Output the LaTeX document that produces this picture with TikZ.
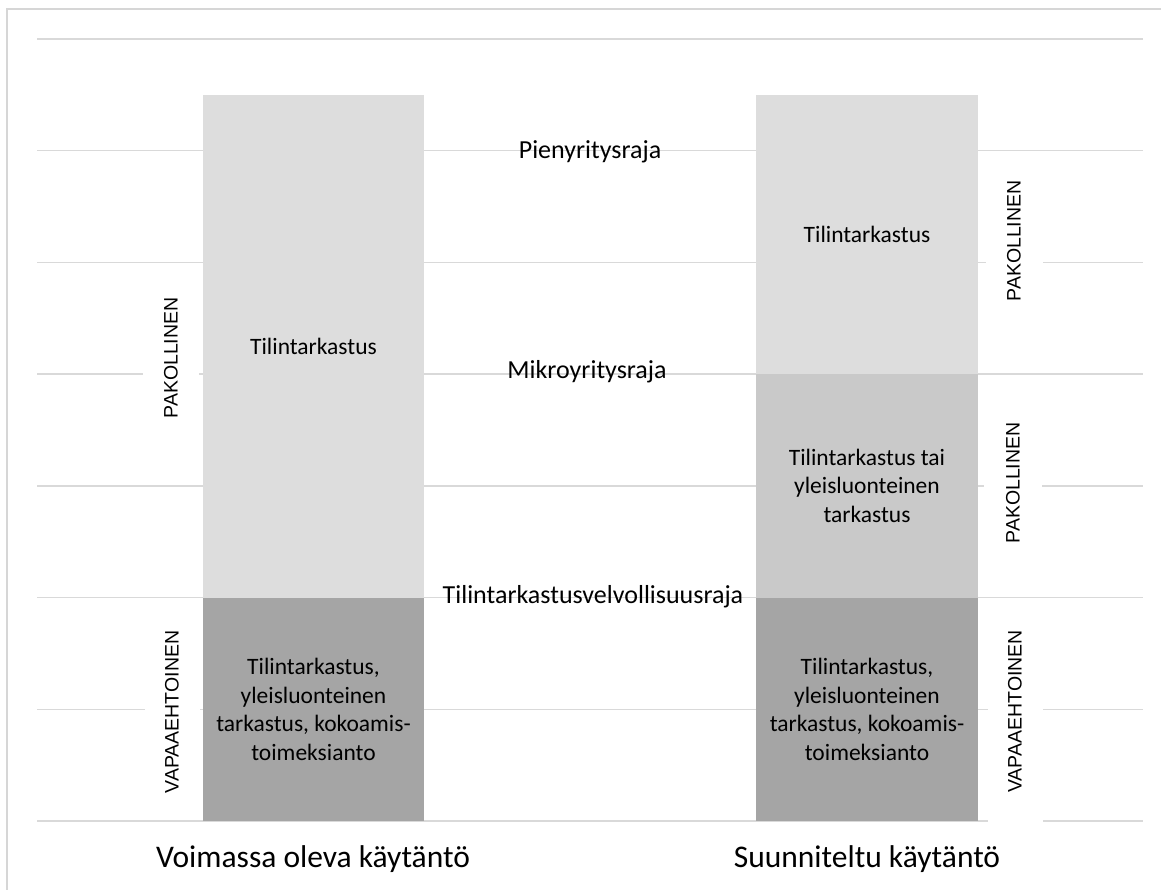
\documentclass[tikz,border=0pt]{standalone}
\usepackage{fontspec}
\setmainfont{Carlito}
\newfontfamily\arialfont{Liberation Sans}
\definecolor{gridgray}{RGB}{217,217,217}
\definecolor{framegray}{RGB}{214,214,214}
\definecolor{lightbar}{RGB}{221,221,221}
\definecolor{midbar}{RGB}{201,201,201}
\definecolor{darkbar}{RGB}{165,165,165}
\begin{document}
\begin{tikzpicture}[x=1pt,y=-1pt,
  gridline/.style={draw=gridgray,line width=1.6pt},
  frameline/.style={draw=framegray,line width=1.8pt},
  barbox/.style={draw=none,inner sep=0pt,align=center,
    font=\fontsize{23.5}{28.6}\selectfont},
  limitlabel/.style={anchor=base,inner sep=0pt,font=\fontsize{26}{31}\selectfont},
  sidelabel/.style={rotate=90,fill=white,inner xsep=3pt,inner ysep=0pt,
    font=\arialfont\fontsize{19.5}{23}\selectfont},
  catlabel/.style={anchor=base,inner sep=0pt,font=\fontsize{31.5}{38}\selectfont}]
\useasboundingbox (0,0) rectangle (1161,890);

% outer frame (left and top edges)
\draw[frameline] (7,890) -- (7,9) -- (1161,9);

% horizontal grid
\foreach \gy in {39,150.7,262.4,374.1,485.9,597.6,709.3,821}
  \draw[gridline] (37,\gy) -- (1143,\gy);

% current practice column
\node[barbox,fill=lightbar,minimum width=221pt,minimum height=502.6pt]
  (curAudit) at (313.5,346.3) {Tilintarkastus};
\node[barbox,fill=darkbar,minimum width=221pt,minimum height=223.4pt]
  (curVol) at (313.5,709.3)
  {Tilintarkastus,\\yleisluonteinen\\tarkastus, kokoamis-\\toimeksianto};

% planned practice column
\node[barbox,fill=lightbar,minimum width=222pt,minimum height=279.1pt]
  (newAudit) at (867,234.55) {Tilintarkastus};
\node[barbox,fill=midbar,minimum width=222pt,minimum height=223.5pt]
  (newReview) at (867,485.85)
  {Tilintarkastus tai\\yleisluonteinen\\tarkastus};
\node[barbox,fill=darkbar,minimum width=222pt,minimum height=223.4pt]
  (newVol) at (867,709.3)
  {Tilintarkastus,\\yleisluonteinen\\tarkastus, kokoamis-\\toimeksianto};

% size limits
\node[limitlabel] (smallLimit) at (590,159) {Pienyritysraja};
\node[limitlabel] (microLimit) at (587,378) {Mikroyritysraja};
\node[limitlabel] (auditLimit) at (593,603) {Tilintarkastusvelvollisuusraja};

% obligation labels
\node[sidelabel,minimum height=56pt] (curMand) at (171,358) {PAKOLLINEN};
\node[sidelabel,minimum height=55pt] (curOpt) at (172,712) {VAPAAEHTOINEN};
\node[sidelabel,minimum height=57pt] (newMand1) at (1014,241) {PAKOLLINEN};
\node[sidelabel,minimum height=58pt] (newMand2) at (1013,483) {PAKOLLINEN};
\node[sidelabel,minimum height=55pt,minimum width=224pt] (newOpt) at (1015,711.5) {VAPAAEHTOINEN};

% column captions
\node[catlabel] (curCap) at (313,867) {Voimassa oleva käytäntö};
\node[catlabel] (newCap) at (867,867) {Suunniteltu käytäntö};
\end{tikzpicture}
\end{document}
